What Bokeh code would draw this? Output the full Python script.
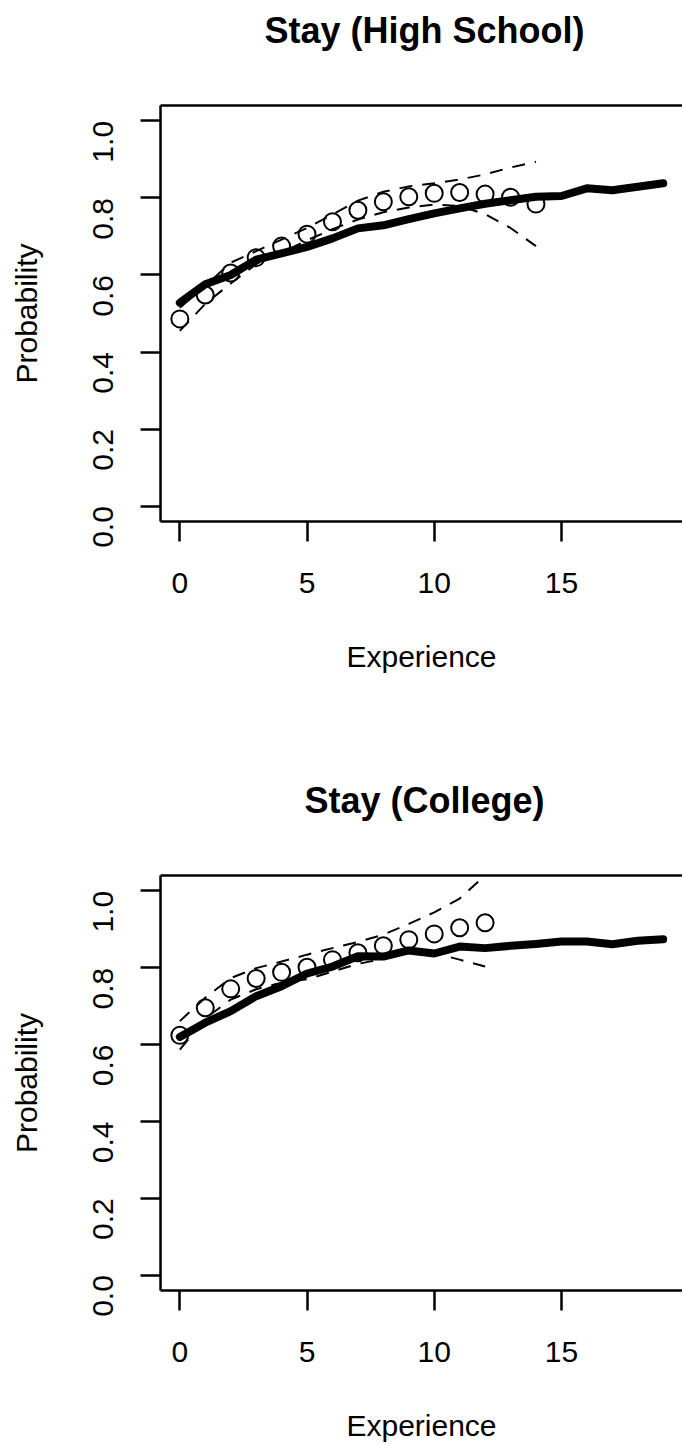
import math
from bokeh.plotting import figure
from bokeh.models import Range1d, FixedTicker, PrintfTickFormatter, LinearAxis
from bokeh.core.properties import value
from bokeh.layouts import column
from bokeh.embed import file_html
from bokeh.resources import INLINE

# ---- data ----
experience_fit = list(range(20))
experience_obs_hs = list(range(15))
experience_obs_col = list(range(13))

hs_fit = [0.528, 0.576, 0.600, 0.640, 0.656, 0.673, 0.695, 0.721, 0.729, 0.745,
          0.760, 0.773, 0.785, 0.794, 0.803, 0.805, 0.825, 0.820, 0.829, 0.838]
hs_obs = [0.486, 0.548, 0.605, 0.645, 0.675, 0.706, 0.738, 0.768, 0.790, 0.803,
          0.812, 0.814, 0.810, 0.802, 0.784]
hs_upper = [0.515, 0.572, 0.632, 0.662, 0.692, 0.722, 0.757, 0.793, 0.816, 0.830,
            0.838, 0.848, 0.861, 0.879, 0.894]
hs_lower = [0.455, 0.525, 0.578, 0.628, 0.658, 0.690, 0.719, 0.744, 0.763, 0.775,
            0.783, 0.779, 0.758, 0.722, 0.675]

col_fit = [0.620, 0.657, 0.687, 0.726, 0.752, 0.785, 0.803, 0.830, 0.829, 0.845,
           0.837, 0.855, 0.851, 0.857, 0.862, 0.868, 0.868, 0.861, 0.870, 0.874]
col_obs = [0.624, 0.696, 0.745, 0.772, 0.788, 0.801, 0.821, 0.839, 0.857, 0.873,
           0.888, 0.904, 0.917]
col_upper = [0.661, 0.722, 0.773, 0.799, 0.816, 0.834, 0.851, 0.867, 0.886, 0.914,
             0.944, 0.980, 1.040]
col_lower = [0.587, 0.668, 0.717, 0.744, 0.761, 0.770, 0.790, 0.810, 0.823, 0.838,
             0.838, 0.821, 0.803]

titles = ["Stay (High School)", "Stay (College)"]
x_ticks = [0, 5, 10, 15]
y_ticks = [0.0, 0.2, 0.4, 0.6, 0.8, 1.0]
x_label = "Experience"
y_label = "Probability"

# ---- layout / style constants ----
FONT = "Liberation Sans"
LBL = "30px"
LW = 2.5
X0, X1 = -0.76, 19.76
Y0, Y1 = -0.04, 1.04
PAGE_W = 682
BORDER_LEFT = 160
FRAME_W = 522
TITLE_H = 80          # height of the strip that holds a panel title
TITLE_BASELINE = 30   # vertical anchor of the title inside that strip
TITLE_CENTER = 424    # horizontal centre of the title (px from page left)


def make_title(text):
    # a strip whose frame spans page pixels BORDER_LEFT..PAGE_W horizontally
    t = figure(frame_width=FRAME_W, frame_height=TITLE_H,
               min_border_left=BORDER_LEFT, min_border_right=0,
               min_border_top=0, min_border_bottom=0,
               x_range=Range1d(BORDER_LEFT, PAGE_W), y_range=Range1d(TITLE_H, 0),
               x_axis_location=None, y_axis_location=None,
               output_backend="svg", toolbar_location=None,
               background_fill_color="white", border_fill_color="white")
    t.outline_line_color = None
    t.grid.visible = False
    t.text(x=[TITLE_CENTER], y=[TITLE_BASELINE], text=[text],
           text_font=value(FONT), text_font_size="36px", text_font_style="bold",
           text_color="black", text_align="center", text_baseline="alphabetic")
    return t


def make_panel(x_obs, fit, obs, upper, lower, frame_h, border_bottom):
    p = figure(frame_width=FRAME_W, frame_height=frame_h, title=None,
               min_border_left=BORDER_LEFT, min_border_right=0,
               min_border_top=25, min_border_bottom=border_bottom,
               x_range=Range1d(X0, X1), y_range=Range1d(Y0, Y1),
               output_backend="svg", toolbar_location=None,
               background_fill_color="white", border_fill_color="white")
    p.outline_line_color = None
    p.xgrid.visible = False
    p.ygrid.visible = False

    for ax in (p.xaxis[0], p.yaxis[0]):
        ax.axis_line_width = LW
        ax.axis_line_color = "black"
        ax.major_tick_line_width = LW
        ax.major_tick_line_color = "black"
        ax.major_tick_out = 20
        ax.major_tick_in = 0
        ax.minor_tick_line_color = None
        ax.major_label_text_font = FONT
        ax.major_label_text_font_size = LBL
        ax.major_label_text_color = "black"
        ax.axis_label_text_font = FONT
        ax.axis_label_text_font_size = LBL
        ax.axis_label_text_font_style = "normal"
        ax.axis_label_text_color = "black"

    p.xaxis[0].ticker = FixedTicker(ticks=x_ticks)
    p.xaxis[0].axis_label = x_label
    p.xaxis[0].major_label_standoff = 31
    p.xaxis[0].axis_label_standoff = 44

    p.yaxis[0].ticker = FixedTicker(ticks=y_ticks)
    p.yaxis[0].formatter = PrintfTickFormatter(format="%.1f")
    p.yaxis[0].major_label_orientation = math.pi / 2
    p.yaxis[0].axis_label = y_label
    p.yaxis[0].major_label_standoff = 37
    p.yaxis[0].axis_label_standoff = 38

    top = LinearAxis(ticker=FixedTicker(ticks=[]), major_label_text_font_size="0px",
                     axis_line_width=LW, axis_line_color="black",
                     major_tick_line_color=None, minor_tick_line_color=None)
    p.add_layout(top, "above")

    p.line(x_obs, upper, line_color="black", line_width=2, line_dash="13 10")
    p.line(x_obs, lower, line_color="black", line_width=2, line_dash="13 10")
    p.scatter(x_obs, obs, marker="circle", size=17, fill_color=None,
              line_color="black", line_width=2)
    p.line(experience_fit, fit, line_color="black", line_width=8,
           line_cap="round", line_join="round")
    return p


t1 = make_title(titles[0])
p1 = make_panel(experience_obs_hs, hs_fit, hs_obs, hs_upper, hs_lower, 416, 249)
t2 = make_title(titles[1])
p2 = make_panel(experience_obs_col, col_fit, col_obs, col_upper, col_lower, 415, 154)

layout = column(t1, p1, t2, p2, spacing=0)
open("out.html", "w").write(file_html(layout, INLINE))
